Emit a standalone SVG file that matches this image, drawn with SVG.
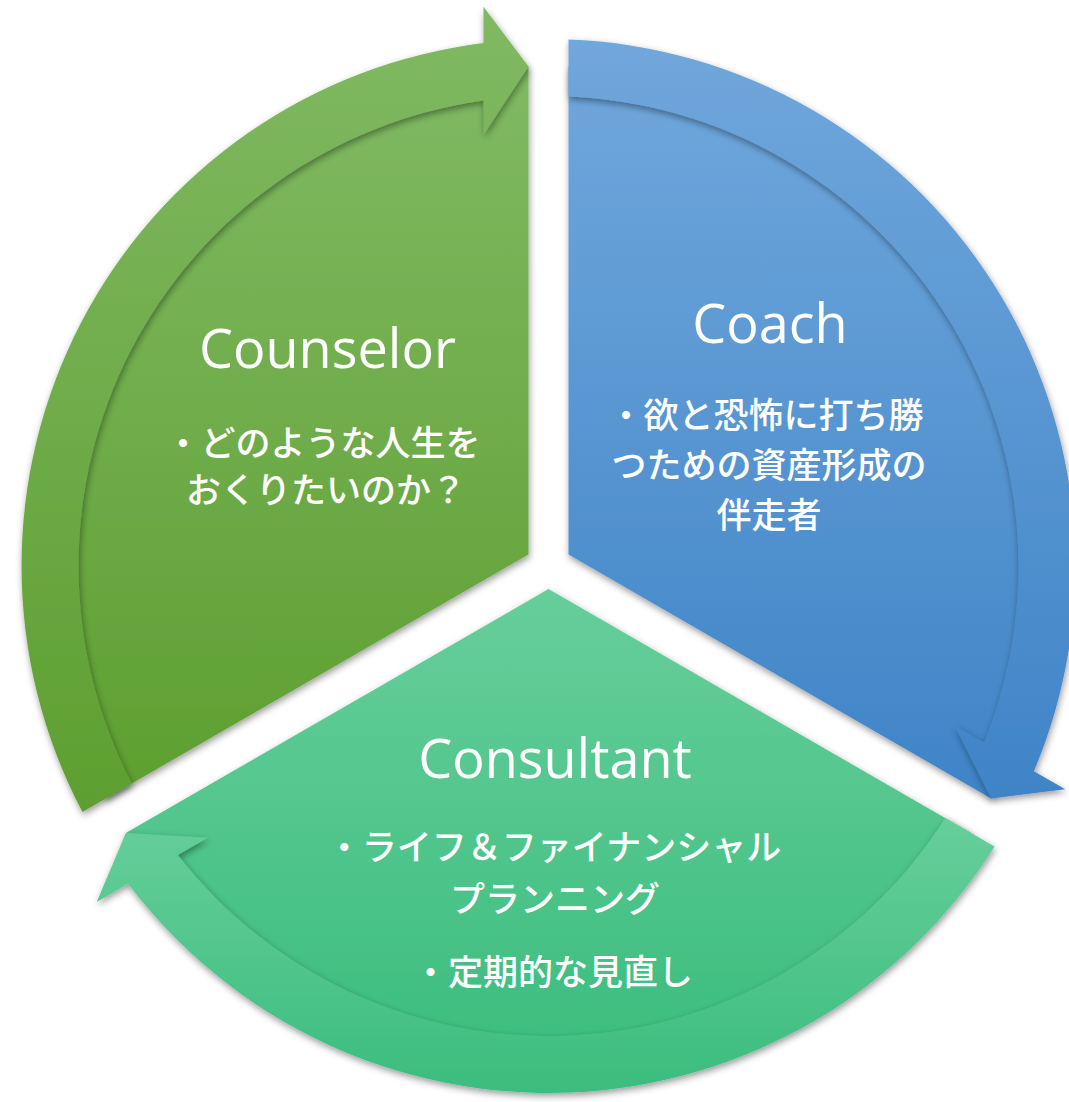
<svg xmlns="http://www.w3.org/2000/svg" width="1069" height="1102" viewBox="0 0 1069 1102">
  <defs>
    <linearGradient id="gGreen" x1="0" y1="0" x2="0" y2="1">
      <stop offset="0" stop-color="#80b963"/>
      <stop offset="1" stop-color="#5e9f30"/>
    </linearGradient>
    <linearGradient id="gBlue" x1="0" y1="0" x2="0" y2="1">
      <stop offset="0" stop-color="#70a7dc"/>
      <stop offset="1" stop-color="#3f84c7"/>
    </linearGradient>
    <linearGradient id="gTeal" x1="0" y1="0" x2="0" y2="1">
      <stop offset="0" stop-color="#67ce9b"/>
      <stop offset="1" stop-color="#3bbd7e"/>
    </linearGradient>
    <filter id="shadow" x="-10%" y="-10%" width="120%" height="120%">
      <feDropShadow dx="1" dy="3" stdDeviation="3.5" flood-color="#000" flood-opacity="0.4"/>
    </filter>
    <style>
      .title { font-family: "Open Sans", "Liberation Sans", sans-serif; font-size: 54px; fill: #ffffff; text-anchor: middle; }
      .body { font-family: "Noto Sans CJK JP", "Noto Sans", sans-serif; font-size: 35px; font-weight: 500; fill: #ffffff; text-anchor: middle; }
      .seg { filter: url(#shadow); }
    </style>
  </defs>
  <rect width="1069" height="1102" fill="#ffffff"/>

  <g id="counselor">
    <path class="seg" fill="url(#gGreen)" d="M528.5 554.45 L105.85 798.48 A500 500 0 0 1 528.52 66.41 Z"/>
    <text class="title" x="327.5" y="368">Counselor</text>
    <text class="body" x="323" y="456">・どのような人生を</text>
    <text class="body" x="326" y="503">おくりたいのか？</text>
  </g>

  <g id="coach">
    <path class="seg" fill="url(#gBlue)" d="M568.5 554.45 L568.5 66.4 A500 500 0 0 1 991.15 798.5 Z"/>
    <text class="title" x="770" y="343">Coach</text>
    <text class="body" x="766" y="428">・欲と恐怖に打ち勝</text>
    <text class="body" x="769" y="478">つための資産形成の</text>
    <text class="body" x="769" y="528">伴走者</text>
  </g>

  <g id="consultant">
    <path class="seg" fill="url(#gTeal)" d="M548.5 589.1 L971.15 833.12 A500 500 0 0 1 125.82 833.09 Z"/>
    <text class="title" x="555" y="778">Consultant</text>
    <text class="body" x="554" y="860">・ライフ＆ファイナンシャル</text>
    <text class="body" x="555" y="912">プランニング</text>
    <text class="body" x="553" y="985">・定期的な見直し</text>
  </g>

  <g id="connectors">
    <path class="seg" fill="url(#gGreen)" d="M82.46 811.98 A527 527 0 0 1 483.5 43.04 L483.48 6.8 L528.52 66.41 L483.55 134.93 L483.55 100.52 A470 470 0 0 0 131.83 783.48 Z"/>
    <path class="seg" fill="url(#gBlue)" d="M568.5 39.4 A527 527 0 0 1 1033.9 771.2 L1065.3 789.3 L991.15 798.5 L954.3 725.3 L984.1 742.5 A470 470 0 0 0 568.5 96.4 Z"/>
    <path class="seg" fill="url(#gTeal)" d="M994.54 846.62 A527 527 0 0 1 128.1 883.76 L96.72 901.9 L125.82 833.09 L207.65 837.77 L177.85 854.98 A470 470 0 0 0 945.17 818.12 Z"/>
  </g>
</svg>
